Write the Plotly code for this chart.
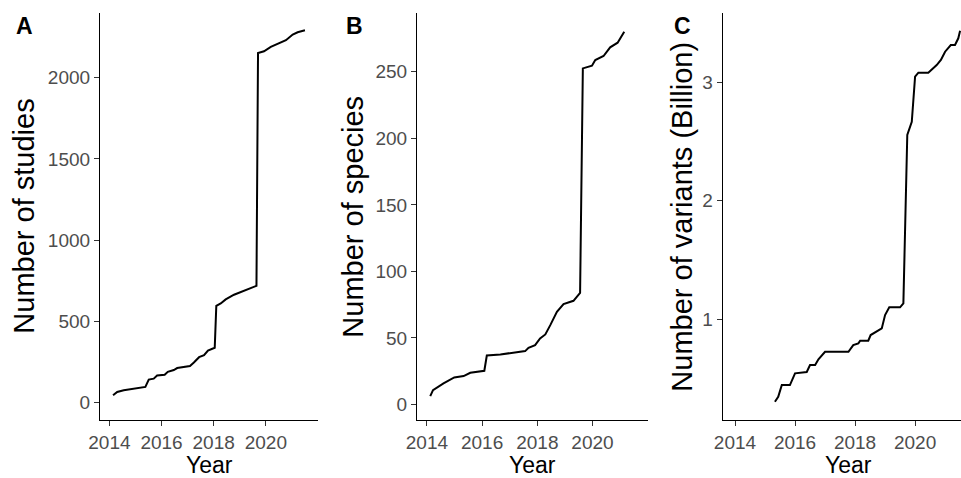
import plotly.graph_objects as go

# ---- Data ----
years_studies = [2014.14, 2014.3, 2014.55, 2015.06, 2015.38, 2015.51, 2015.7, 2015.83, 2016.12,
                 2016.24, 2016.47, 2016.6, 2017.09, 2017.24, 2017.44, 2017.63, 2017.78, 2018.04,
                 2018.1, 2018.27, 2018.46, 2018.78, 2019.1, 2019.3, 2019.64, 2019.7, 2019.93,
                 2020.19, 2020.38, 2020.77, 2021.03, 2021.22, 2021.5]
studies = [43, 64, 74, 87, 95, 140, 146, 165, 170, 188, 199, 211, 224, 245, 278, 290, 319, 336,
           594, 609, 634, 663, 685, 695, 718, 2152, 2163, 2190, 2204, 2231, 2266, 2280, 2292]

years_species = [2014.12, 2014.22, 2014.6, 2014.84, 2014.99, 2015.33, 2015.57, 2016.08, 2016.17,
                 2016.66, 2017.56, 2017.68, 2017.92, 2018.1, 2018.29, 2018.47, 2018.71, 2018.95,
                 2019.31, 2019.55, 2019.65, 2019.98, 2020.1, 2020.4, 2020.64, 2020.91, 2021.15]
species = [6.2, 10.8, 15.8, 18.3, 20.3, 21.3, 23.8, 25.3, 36.8, 37.6, 40.1, 42.6, 44.6, 49.6,
           52.6, 59.6, 69.6, 75.4, 77.9, 83.9, 252.6, 254.6, 258.9, 261.9, 268.4, 271.9, 280.2]

years_variants = [2015.33, 2015.44, 2015.56, 2015.83, 2016.0, 2016.39, 2016.5, 2016.67, 2016.78,
                  2017.0, 2017.78, 2017.94, 2018.11, 2018.17, 2018.44, 2018.52, 2018.89, 2019.0,
                  2019.14, 2019.5, 2019.61, 2019.74, 2019.89, 2020.0, 2020.11, 2020.44, 2020.72,
                  2020.86, 2021.0, 2021.19, 2021.33, 2021.44, 2021.5]
variants_billion = [0.302, 0.344, 0.443, 0.443, 0.542, 0.553, 0.612, 0.612, 0.66, 0.724, 0.724,
                    0.78, 0.795, 0.817, 0.817, 0.865, 0.921, 1.034, 1.099, 1.099, 1.132, 2.553,
                    2.665, 3.045, 3.079, 3.079, 3.143, 3.186, 3.256, 3.312, 3.312, 3.369, 3.433]

year_ticks = [2014, 2016, 2018, 2020]
panel_labels = ["A", "B", "C"]
y_titles = ["Number of studies", "Number of species", "Number of variants (Billion)"]
x_title = "Year"

# ---- Layout geometry (pixels) ----
W, H = 961, 478
FONT = "Liberation Sans, Arial, sans-serif"
panels_px = [(100, 318), (417, 647.7), (722.7, 961)]
x_ranges = [[2013.64, 2022.0], [2013.64, 2022.0], [2013.59, 2021.53]]
y_ranges = [[-109, 2397], [-11.7, 294], [0.148, 3.58]]
y_tick_sets = [[0, 500, 1000, 1500, 2000], [0, 50, 100, 150, 200, 250], [1, 2, 3]]
top_px, bottom_px = 13.3, 420
ydom = [(H - bottom_px) / H, (H - top_px) / H]

fig = go.Figure()
series = [(years_studies, studies), (years_species, species), (years_variants, variants_billion)]
for i, (xs, ys) in enumerate(series):
    sfx = "" if i == 0 else str(i + 1)
    fig.add_trace(go.Scatter(x=xs, y=ys, mode="lines", line=dict(color="black", width=2),
                             xaxis="x" + sfx, yaxis="y" + sfx, showlegend=False,
                             hoverinfo="skip", cliponaxis=True))
    axis_common = dict(showgrid=False, zeroline=False, showline=True, linecolor="black",
                       linewidth=1.1, ticks="outside", ticklen=5, tickwidth=1.1,
                       tickcolor="#333333", automargin=False,
                       tickfont=dict(family=FONT, size=19, color="#4D4D4D"))
    fig.layout["xaxis" + sfx] = dict(domain=[panels_px[i][0] / W, min(panels_px[i][1] / W, 1.0)],
                                     range=x_ranges[i], tickvals=year_ticks,
                                     ticktext=[str(t) for t in year_ticks],
                                     anchor="y" + sfx, **axis_common)
    fig.layout["yaxis" + sfx] = dict(domain=ydom, range=y_ranges[i], tickvals=y_tick_sets[i],
                                     anchor="x" + sfx, **axis_common)

annotations = []
ytitle_x = [24, 353, 682]
label_x = [24, 354, 682]
xtitle_center = [209, 532, 848]
ymid = (H - (top_px + bottom_px) / 2) / H
for i in range(3):
    annotations.append(dict(text=y_titles[i], x=ytitle_x[i] / W, y=ymid, xref="paper", yref="paper",
                            textangle=-90, showarrow=False, xanchor="center", yanchor="middle",
                            font=dict(family=FONT, size=29, color="black")))
    annotations.append(dict(text="<b>%s</b>" % panel_labels[i], x=label_x[i] / W, y=(H - 26) / H,
                            xref="paper", yref="paper", showarrow=False, xanchor="center",
                            yanchor="middle", font=dict(family=FONT, size=23, color="black")))
    annotations.append(dict(text=x_title, x=xtitle_center[i] / W, y=(H - 465) / H,
                            xref="paper", yref="paper", showarrow=False, xanchor="center",
                            yanchor="middle", font=dict(family=FONT, size=23, color="black")))

fig.update_layout(width=W, height=H, margin=dict(l=0, r=0, t=0, b=0, pad=0, autoexpand=False),
                  plot_bgcolor="white", paper_bgcolor="white", annotations=annotations)

fig.write_html("out.html", config={"displayModeBar": False},
               post_script="document.body.style.margin='0';document.body.style.overflow='hidden';")
